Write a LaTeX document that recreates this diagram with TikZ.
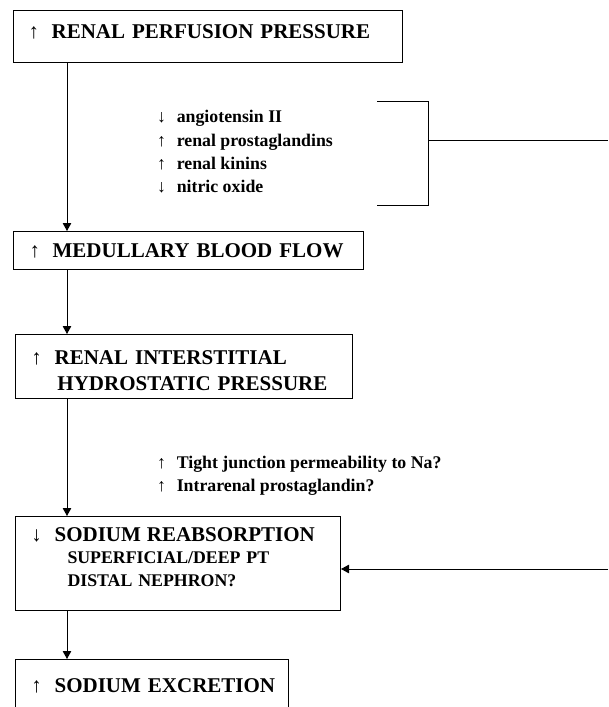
\documentclass[tikz,border=0pt]{standalone}
\usepackage{fontspec}
\setmainfont{Liberation Serif}
\usetikzlibrary{arrows.meta}
\newcommand{\incr}{\textmd{↑}\hspace{.6em}}
\newcommand{\decr}{\textmd{↓}\hspace{.6em}}

\begin{document}
\begin{tikzpicture}[x=1pt,y=-1pt,
  box/.style={draw,line width=1pt,anchor=north west,inner xsep=0pt,inner ysep=0pt,align=left,font=\bfseries\fontsize{21}{26}\selectfont},
  note/.style={anchor=west,align=left,inner sep=0pt,font=\bfseries\fontsize{17.8}{23.3}\selectfont},
  link/.style={-{Triangle[length=8pt,width=8.5pt]},line width=0.9pt}]
\useasboundingbox (0,0) rectangle (608,707);
\node[box,text width=389pt,minimum height=52pt,text depth=10pt] (rpp) at (13,10) {\hspace*{15pt}\incr RENAL PERFUSION PRESSURE};
\node[box,text width=350pt,minimum height=38pt] (mbf) at (13,231) {\hspace*{16pt}\incr MEDULLARY BLOOD FLOW};
\node[box,text width=337pt,minimum height=64pt,text depth=18pt] (rihp) at (15,334) {\hspace*{16pt}\incr RENAL INTERSTITIAL\\\hspace*{42pt}HYDROSTATIC PRESSURE};
\node[box,text width=325pt,minimum height=94pt,text depth=58pt,font=\bfseries\fontsize{17.8}{22.5}\selectfont] (snr) at (15,516)
  {{\fontsize{21}{22.5}\selectfont\hspace*{16pt}\decr SODIUM REABSORPTION}\\\hspace*{52pt}SUPERFICIAL/DEEP PT\\\hspace*{52pt}DISTAL NEPHRON?};
\node[box,text width=273pt,minimum height=52pt] (sne) at (15,659) {\hspace*{16pt}\incr SODIUM EXCRETION};
% side effects
\node[note] (mediators) at (157,152) {\decr angiotensin II\\\incr renal prostaglandins\\\incr renal kinins\\\decr nitric oxide};
\node[note] (tubular) at (157,476) {\incr Tight junction permeability to Na?\\\incr Intrarenal prostaglandin?};
\coordinate (spine) at (67,0);
\coordinate (brtop) at (377,101);
\coordinate (brbot) at (377,205);
\coordinate (brmid) at (428,140);
\coordinate (fbout) at (608,140);
\coordinate (fbin) at (608,569);
\draw[line width=0.9pt] (brtop) -| (brmid |- brbot) -- (brbot);
\draw[line width=0.9pt] (brmid) -- (fbout);
\draw[link] (fbin) -- (fbin -| snr.east);
\path[link]
(rpp.south -| spine) edge (mbf.north -| spine)
(mbf.south -| spine) edge (rihp.north -| spine)
(rihp.south -| spine) edge (snr.north -| spine)
(snr.south -| spine) edge (sne.north -| spine);
\end{tikzpicture}
\end{document}
